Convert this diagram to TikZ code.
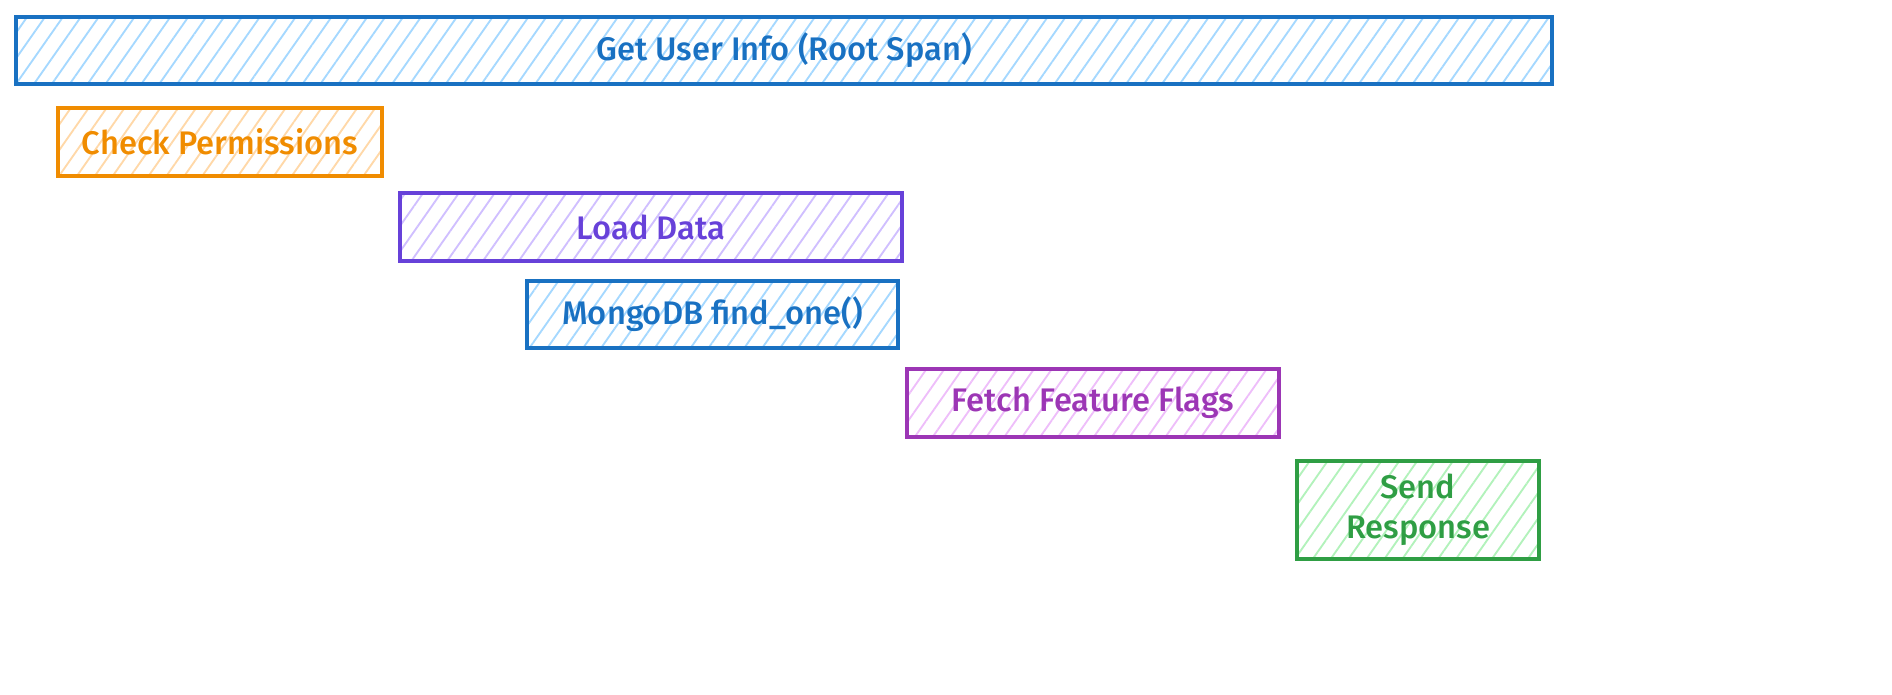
\documentclass[tikz,border=0pt]{standalone}
\usepackage{fontspec}
\setmainfont{Fira Sans}
\newfontfamily\spanfont{Fira Sans Medium}
\usetikzlibrary{patterns.meta}
\definecolor{cblue}{HTML}{1971C2}
\definecolor{hblue}{HTML}{A5D8FF}
\definecolor{corange}{HTML}{F08C00}
\definecolor{horange}{HTML}{FFD8A8}
\definecolor{cviolet}{HTML}{6741D9}
\definecolor{hviolet}{HTML}{D0BFFF}
\definecolor{cgrape}{HTML}{9C36B5}
\definecolor{hgrape}{HTML}{EEBEFA}
\definecolor{cgreen}{HTML}{2F9E44}
\definecolor{hgreen}{HTML}{B2F2BB}
\tikzset{
  spanbox/.style n args={2}{draw=#1, text=#1, line width=2.4pt,
    pattern={Lines[angle=55,distance=11pt,line width=1.4pt]}, pattern color=#2,
    inner sep=0pt, anchor=center, align=center,
    font=\spanfont\fontsize{24.5}{30}\selectfont},
}
\begin{document}
\begin{tikzpicture}[x=0.75pt,y=-0.75pt]
\useasboundingbox (0,0) rectangle (1892,695);
\node[spanbox={cblue}{hblue}, minimum width=1536*0.75pt, minimum height=67*0.75pt] (root) at (784,50.5) {Get User Info (Root Span)};
\node[spanbox={corange}{horange}, minimum width=324*0.75pt, minimum height=68*0.75pt] (perm) at (220,142) {Check Permissions};
\node[spanbox={cviolet}{hviolet}, minimum width=502*0.75pt, minimum height=68*0.75pt] (load) at (651,227) {Load Data};
\node[spanbox={cblue}{hblue}, minimum width=371*0.75pt, minimum height=67*0.75pt] (mongo) at (712.5,314.5) {MongoDB find\_one()};
\node[spanbox={cgrape}{hgrape}, minimum width=372*0.75pt, minimum height=68*0.75pt] (flags) at (1093,403) {Fetch Feature Flags};
\node[spanbox={cgreen}{hgreen}, minimum width=242*0.75pt, minimum height=98*0.75pt] (send) at (1418,510) {Send\\Response};
\end{tikzpicture}
\end{document}
